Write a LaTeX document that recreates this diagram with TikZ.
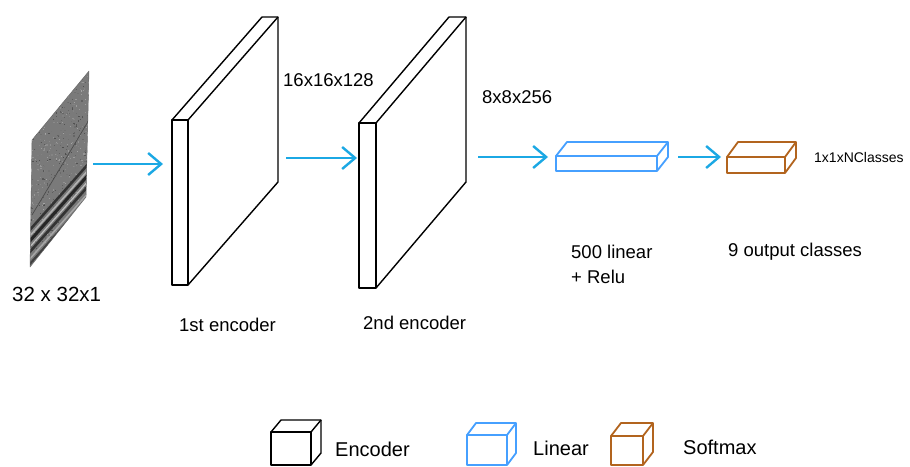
\documentclass[tikz,border=0pt]{standalone}
\usepackage{fontspec}
\setmainfont{Liberation Sans}
\usetikzlibrary{arrows.meta,calc}
\definecolor{arrblue}{RGB}{27,168,228}
\definecolor{linblue}{RGB}{70,160,255}
\definecolor{softbrown}{RGB}{178,100,30}
\newcommand\cubedepth[4]{%
  \draw[#4] (#1.north west) -- ++(#2,#3) -- ($(#1.north east)+(#2,#3)$)
     -- ($(#1.south east)+(#2,#3)$) -- (#1.south east);
  \draw[#4] (#1.north east) -- ++(#2,#3);}
\begin{document}
\begin{tikzpicture}[x=1pt,y=-1pt,line join=round,
  encline/.style={draw=black,line width=1.4pt},
  linline/.style={draw=linblue,line width=1.8pt},
  softline/.style={draw=softbrown,line width=1.8pt},
  face/.style={inner sep=0pt,outer sep=0pt,anchor=north west},
  arr/.style={draw=arrblue,line width=2.4pt,-{Straight Barb[length=13pt,width=22pt]}},
  lbl/.style={inner sep=0pt,anchor=west,font=\fontsize{18.5}{22}\selectfont,text height=13.3pt,text depth=0pt},
  biglbl/.style={lbl,font=\fontsize{20.5}{24}\selectfont,text height=14.7pt},
  leglbl/.style={lbl,font=\fontsize{20}{24}\selectfont,text height=14.4pt},
  smalllbl/.style={lbl,font=\fontsize{14}{17}\selectfont,text height=10pt}]
\useasboundingbox (0,0) rectangle (910,466);
\fill[white] (0,0) rectangle (910,466);

% input image
\begin{scope}
  \path[clip] (30,267) -- (32,140) -- (89,71) -- (86,197) -- cycle;
  \fill[black!52] (20,60) rectangle (100,280);
  \pgfmathsetseed{11}
  \foreach \i in {1,...,900}{
    \pgfmathsetmacro\px{28+62*rnd}
    \pgfmathsetmacro\py{68+200*rnd}
    \pgfmathsetmacro\gv{35+35*rnd}
    \fill[black!\gv] (\px,\py) rectangle ++(1.2,1.2);
  }
  \foreach \o/\w/\c in {0/2.5/80,6/1.5/30,11/3/85,17/1.2/25,22/2.6/80,29/1.5/35,34/2/75}{
    \draw[black!\c,line width=\w pt] (28,{232+\o}) -- (90,{162+\o});
  }
  \draw[black!70,line width=0.7pt] (32,215) -- (89,120);
\end{scope}
\draw[black!60,line width=0.4pt] (30,267) -- (32,140) -- (89,71) -- (86,197) -- cycle;
\coordinate (img) at (60,169);

% encoders
\node[face,encline,minimum width=16pt,minimum height=165pt] (enc1) at (172,120) {};
\cubedepth{enc1}{90}{-103}{encline}
\node[face,encline,minimum width=17pt,minimum height=165pt] (enc2) at (359,123) {};
\cubedepth{enc2}{90}{-106}{encline}

% linear and softmax
\node[face,linline,minimum width=101pt,minimum height=15pt] (lin) at (556,156) {};
\cubedepth{lin}{11}{-14}{linline}
\node[face,softline,minimum width=58pt,minimum height=16pt] (soft) at (727,157) {};
\cubedepth{soft}{11}{-15}{softline}

% arrows
\coordinate (a1s) at (93,164);  \coordinate (a1e) at (163,164);
\coordinate (a2s) at (286,158); \coordinate (a2e) at (357,158);
\coordinate (a3s) at (478,157); \coordinate (a3e) at (548,157);
\coordinate (a4s) at (678,157); \coordinate (a4e) at (721,157);
\draw[arr] (a1s) -- (a1e);
\draw[arr] (a2s) -- (a2e);
\draw[arr] (a3s) -- (a3e);
\draw[arr] (a4s) -- (a4e);

% labels
\node[biglbl] (t1) at (12,294) {32 x 32x1};
\node[lbl] (t2) at (179,325) {1st encoder};
\node[lbl] (t3) at (363,323) {2nd encoder};
\node[lbl] (t4) at (283,80) {16x16x128};
\node[lbl] (t5) at (482,97) {8x8x256};
\node[lbl] (t6) at (571,252) {500 linear};
\node[lbl] (t7) at (571,277) {+ Relu};
\node[lbl] (t8) at (728,250) {9 output classes};
\node[smalllbl] (t9) at (814,157) {1x1xNClasses};

% legend
\node[face,encline,minimum width=40pt,minimum height=33pt] (lg1) at (271,432) {};
\cubedepth{lg1}{10}{-12}{encline}
\node[leglbl] (lt1) at (335,449) {Encoder};
\node[face,linline,minimum width=40pt,minimum height=30pt] (lg2) at (467,435) {};
\cubedepth{lg2}{9}{-12}{linline}
\node[leglbl] (lt2) at (533,448) {Linear};
\node[face,softline,minimum width=32pt,minimum height=29pt] (lg3) at (611,436) {};
\cubedepth{lg3}{10}{-13}{softline}
\node[leglbl] (lt3) at (683,447) {Softmax};
\end{tikzpicture}
\end{document}
